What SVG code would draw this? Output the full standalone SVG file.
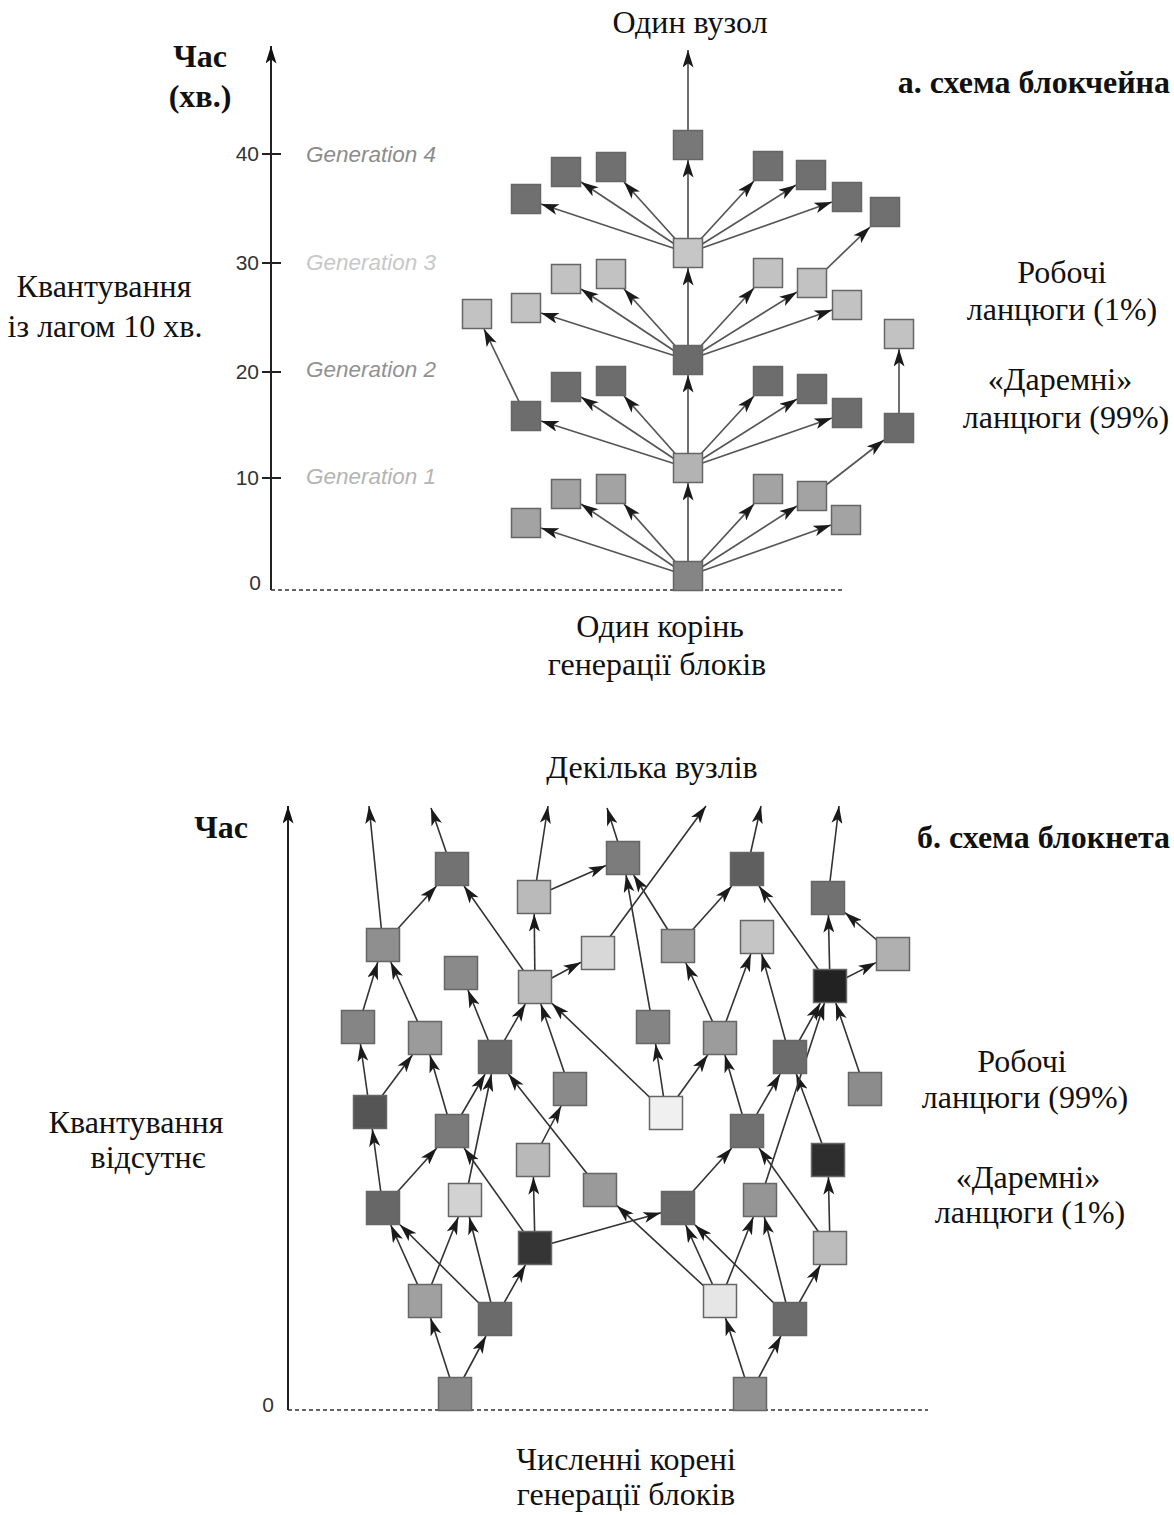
<svg xmlns="http://www.w3.org/2000/svg" width="1174" height="1515" viewBox="0 0 1174 1515">
<defs>
<marker id="ah" viewBox="0 0 16 10" refX="16" refY="5" markerWidth="18" markerHeight="11" markerUnits="userSpaceOnUse" orient="auto"><path d="M0,0 L16,5 L0,10 L4,5 z" fill="#1a1a1a"/></marker>
<marker id="ax" viewBox="0 0 16 10" refX="16" refY="5" markerWidth="18" markerHeight="11" markerUnits="userSpaceOnUse" orient="auto"><path d="M0,0 L16,5 L0,10 L4,5 z" fill="#111"/></marker>
</defs>
<style>
.lbl{font-family:"Liberation Serif","Times New Roman",serif;font-size:32px;fill:#111;text-anchor:middle}
.bold{font-weight:bold}
.gen{font-family:"Liberation Sans",Arial,sans-serif;font-style:italic;font-size:22.5px}
.num{font-family:"Liberation Sans",Arial,sans-serif;font-size:21px;fill:#333;text-anchor:end}
.axis{stroke:#222;stroke-width:2;fill:none}
.tick{stroke:#222;stroke-width:2}
.base{stroke:#333;stroke-width:1.6;stroke-dasharray:4 3;fill:none}
.ea line{stroke:#555;stroke-width:1.7;marker-end:url(#ah)}
.eb line{stroke:#333;stroke-width:1.6;marker-end:url(#ah)}
.na rect{stroke:#666;stroke-width:1.5}
.nb rect{stroke:#666;stroke-width:1.5}
</style>
<rect width="1174" height="1515" fill="#fff"/>

<!-- ===== Part a ===== -->
<g id="a-axis">
<line class="axis" x1="271" y1="590" x2="271" y2="46" marker-end="url(#ax)"/>
<line class="tick" x1="262" y1="154" x2="281" y2="154"/>
<line class="tick" x1="262" y1="263" x2="281" y2="263"/>
<line class="tick" x1="262" y1="372" x2="281" y2="372"/>
<line class="tick" x1="262" y1="478" x2="281" y2="478"/>
<text class="num" x="259" y="161">40</text>
<text class="num" x="259" y="270">30</text>
<text class="num" x="259" y="379">20</text>
<text class="num" x="259" y="485">10</text>
<text class="num" x="261" y="590">0</text>
<line class="base" x1="271" y1="590" x2="845" y2="590"/>
</g>
<g id="a-gens">
<text class="gen" x="306" y="162" fill="#8c8c8c">Generation 4</text>
<text class="gen" x="306" y="270" fill="#c8c8c8">Generation 3</text>
<text class="gen" x="306" y="377" fill="#929292">Generation 2</text>
<text class="gen" x="306" y="484" fill="#b4b4b4">Generation 1</text>
</g>
<g id="a-connectors" class="ea">
<line x1="688" y1="576" x2="541" y2="528"/>
<line x1="688" y1="576" x2="581" y2="504"/>
<line x1="688" y1="576" x2="624" y2="504"/>
<line x1="688" y1="576" x2="688" y2="483"/>
<line x1="688" y1="576" x2="754" y2="504"/>
<line x1="688" y1="576" x2="797" y2="506"/>
<line x1="688" y1="576" x2="831" y2="525"/>
<line x1="688" y1="468" x2="541" y2="421"/>
<line x1="688" y1="468" x2="581" y2="397"/>
<line x1="688" y1="468" x2="624" y2="396"/>
<line x1="688" y1="468" x2="688" y2="375"/>
<line x1="688" y1="468" x2="754" y2="396"/>
<line x1="688" y1="468" x2="797" y2="399"/>
<line x1="688" y1="468" x2="832" y2="418"/>
<line x1="812" y1="496" x2="884" y2="440"/>
<line x1="688" y1="360" x2="541" y2="313"/>
<line x1="688" y1="360" x2="581" y2="289"/>
<line x1="688" y1="360" x2="624" y2="289"/>
<line x1="688" y1="360" x2="688" y2="268"/>
<line x1="688" y1="360" x2="754" y2="288"/>
<line x1="688" y1="360" x2="797" y2="292"/>
<line x1="688" y1="360" x2="832" y2="310"/>
<line x1="526" y1="416" x2="484" y2="329"/>
<line x1="899" y1="428" x2="899" y2="349"/>
<line x1="688" y1="253" x2="541" y2="204"/>
<line x1="688" y1="253" x2="581" y2="182"/>
<line x1="688" y1="253" x2="624" y2="182"/>
<line x1="688" y1="253" x2="688" y2="160"/>
<line x1="688" y1="253" x2="754" y2="181"/>
<line x1="688" y1="253" x2="796" y2="185"/>
<line x1="688" y1="253" x2="832" y2="202"/>
<line x1="812" y1="283" x2="870" y2="227"/>
<line x1="688" y1="145" x2="688" y2="50"/>
</g>
<g class="na">
<g id="a-root"><rect x="673.5" y="561.5" width="29" height="29" fill="#858585"/></g>
<g id="a1L1"><rect x="511.5" y="508.5" width="29" height="29" fill="#a3a3a3"/></g>
<g id="a1L2"><rect x="551.5" y="479.5" width="29" height="29" fill="#a3a3a3"/></g>
<g id="a1L3"><rect x="596.5" y="474.5" width="29" height="29" fill="#a3a3a3"/></g>
<g id="a1c"><rect x="673.5" y="453.5" width="29" height="29" fill="#b3b3b3"/></g>
<g id="a1R1"><rect x="753.5" y="474.5" width="29" height="29" fill="#a3a3a3"/></g>
<g id="a1R2"><rect x="797.5" y="481.5" width="29" height="29" fill="#a3a3a3"/></g>
<g id="a1R3"><rect x="831.5" y="505.5" width="29" height="29" fill="#a3a3a3"/></g>
<g id="a2L1"><rect x="511.5" y="401.5" width="29" height="29" fill="#6d6d6d"/></g>
<g id="a2L2"><rect x="551.5" y="372.5" width="29" height="29" fill="#6d6d6d"/></g>
<g id="a2L3"><rect x="596.5" y="366.5" width="29" height="29" fill="#6d6d6d"/></g>
<g id="a2c"><rect x="673.5" y="345.5" width="29" height="29" fill="#6b6b6b"/></g>
<g id="a2R1"><rect x="753.5" y="366.5" width="29" height="29" fill="#6d6d6d"/></g>
<g id="a2R2"><rect x="797.5" y="374.5" width="29" height="29" fill="#6d6d6d"/></g>
<g id="a2R3"><rect x="832.5" y="398.5" width="29" height="29" fill="#6d6d6d"/></g>
<g id="a2X"><rect x="884.5" y="413.5" width="29" height="29" fill="#6b6b6b"/></g>
<g id="a3L0"><rect x="462.5" y="299.5" width="29" height="29" fill="#c2c2c2"/></g>
<g id="a3L1"><rect x="511.5" y="293.5" width="29" height="29" fill="#c2c2c2"/></g>
<g id="a3L2"><rect x="551.5" y="264.5" width="29" height="29" fill="#c2c2c2"/></g>
<g id="a3L3"><rect x="596.5" y="259.5" width="29" height="29" fill="#c2c2c2"/></g>
<g id="a3c"><rect x="673.5" y="238.5" width="29" height="29" fill="#c6c6c6"/></g>
<g id="a3R1"><rect x="753.5" y="258.5" width="29" height="29" fill="#c2c2c2"/></g>
<g id="a3R2"><rect x="797.5" y="268.5" width="29" height="29" fill="#c2c2c2"/></g>
<g id="a3R3"><rect x="832.5" y="290.5" width="29" height="29" fill="#c2c2c2"/></g>
<g id="a3X"><rect x="884.5" y="319.5" width="29" height="29" fill="#c2c2c2"/></g>
<g id="a4L1"><rect x="511.5" y="184.5" width="29" height="29" fill="#707070"/></g>
<g id="a4L2"><rect x="551.5" y="157.5" width="29" height="29" fill="#707070"/></g>
<g id="a4L3"><rect x="596.5" y="152.5" width="29" height="29" fill="#707070"/></g>
<g id="a4c"><rect x="673.5" y="130.5" width="29" height="29" fill="#787878"/></g>
<g id="a4R1"><rect x="753.5" y="151.5" width="29" height="29" fill="#707070"/></g>
<g id="a4R2"><rect x="796.5" y="160.5" width="29" height="29" fill="#707070"/></g>
<g id="a4R3"><rect x="832.5" y="182.5" width="29" height="29" fill="#707070"/></g>
<g id="a4X"><rect x="870.5" y="197.5" width="29" height="29" fill="#707070"/></g>
</g>
<g id="a-labels">
<text class="lbl" x="690" y="33">Один вузол</text>
<text class="lbl bold" x="200" y="67">Час</text>
<text class="lbl bold" x="200" y="107">(хв.)</text>
<text class="lbl bold" x="1170" y="93" style="text-anchor:end">а. схема блокчейна</text>
<text class="lbl" x="104" y="297">Квантування</text>
<text class="lbl" x="105" y="337">із лагом 10 хв.</text>
<text class="lbl" x="1062" y="283">Робочі</text>
<text class="lbl" x="1062" y="320">ланцюги (1%)</text>
<text class="lbl" x="1060" y="390">«Даремні»</text>
<text class="lbl" x="1066" y="428">ланцюги (99%)</text>
<text class="lbl" x="660" y="637">Один корінь</text>
<text class="lbl" x="657" y="675">генерації блоків</text>
</g>

<!-- ===== Part b ===== -->
<g id="b-axis">
<line class="axis" x1="288" y1="1410" x2="288" y2="806" marker-end="url(#ax)"/>
<text class="num" x="274" y="1412">0</text>
<line class="base" x1="288" y1="1410" x2="928" y2="1410"/>
</g>
<g id="b-connectors" class="eb">
<line x1="455" y1="1394" x2="430.5" y2="1318"/>
<line x1="455" y1="1394" x2="486" y2="1336"/>
<line x1="425" y1="1301" x2="390.7" y2="1225"/>
<line x1="425" y1="1301" x2="458.3" y2="1217"/>
<line x1="495" y1="1319" x2="400" y2="1224.8"/>
<line x1="495" y1="1319" x2="469.3" y2="1217"/>
<line x1="495" y1="1319" x2="525.4" y2="1265"/>
<line x1="383" y1="1208" x2="372.3" y2="1129"/>
<line x1="383" y1="1208" x2="436.8" y2="1148"/>
<line x1="465" y1="1200" x2="491.4" y2="1074"/>
<line x1="535" y1="1248" x2="464.1" y2="1148"/>
<line x1="535" y1="1248" x2="533.4" y2="1177"/>
<line x1="535" y1="1248" x2="661" y2="1212.8"/>
<line x1="533" y1="1160" x2="561.1" y2="1106"/>
<line x1="600" y1="1190" x2="508.4" y2="1074"/>
<line x1="720" y1="1301" x2="617" y2="1205.7"/>
<line x1="370" y1="1112" x2="360.4" y2="1044"/>
<line x1="370" y1="1112" x2="412.4" y2="1055"/>
<line x1="452" y1="1131" x2="429.9" y2="1055"/>
<line x1="452" y1="1131" x2="485.1" y2="1074"/>
<line x1="358" y1="1027" x2="377.8" y2="962"/>
<line x1="425" y1="1038" x2="390.7" y2="962"/>
<line x1="495" y1="1057" x2="467.9" y2="990"/>
<line x1="495" y1="1057" x2="525.3" y2="1004"/>
<line x1="570" y1="1089" x2="540.8" y2="1004"/>
<line x1="666" y1="1113" x2="552" y2="1003.4"/>
<line x1="535" y1="987" x2="534.2" y2="914"/>
<line x1="535" y1="987" x2="464" y2="886"/>
<line x1="535" y1="987" x2="581" y2="962.2"/>
<line x1="383" y1="945" x2="436.5" y2="886"/>
<line x1="383" y1="945" x2="369" y2="806"/>
<line x1="452" y1="869" x2="431" y2="808"/>
<line x1="534" y1="897" x2="548" y2="806"/>
<line x1="534" y1="897" x2="606" y2="865.4"/>
<line x1="598" y1="953" x2="706" y2="806"/>
<line x1="653" y1="1027" x2="626" y2="875"/>
<line x1="678" y1="946" x2="633.6" y2="875"/>
<line x1="678" y1="946" x2="731.8" y2="886"/>
<line x1="623" y1="858" x2="607" y2="808"/>
<line x1="747" y1="869" x2="761" y2="806"/>
<line x1="828" y1="898" x2="839" y2="806"/>
<line x1="830" y1="986" x2="828.4" y2="915"/>
<line x1="830" y1="986" x2="759" y2="886"/>
<line x1="830" y1="986" x2="876" y2="962.6"/>
<line x1="893" y1="954" x2="845" y2="912.6"/>
<line x1="666" y1="1113" x2="655.6" y2="1044"/>
<line x1="666" y1="1113" x2="707.7" y2="1055"/>
<line x1="747" y1="1131" x2="724.9" y2="1055"/>
<line x1="747" y1="1131" x2="780.1" y2="1074"/>
<line x1="828" y1="1160" x2="796.3" y2="1074"/>
<line x1="720" y1="1038" x2="685.8" y2="963"/>
<line x1="720" y1="1038" x2="750.8" y2="954"/>
<line x1="790" y1="1057" x2="761.7" y2="954"/>
<line x1="790" y1="1057" x2="820.4" y2="1003"/>
<line x1="760" y1="1200" x2="824.4" y2="1003"/>
<line x1="865" y1="1089" x2="835.8" y2="1003"/>
<line x1="678" y1="1208" x2="731.8" y2="1148"/>
<line x1="830" y1="1248" x2="759" y2="1148"/>
<line x1="830" y1="1248" x2="828.4" y2="1177"/>
<line x1="720" y1="1301" x2="685.7" y2="1225"/>
<line x1="720" y1="1301" x2="753.3" y2="1217"/>
<line x1="790" y1="1319" x2="695" y2="1224.9"/>
<line x1="790" y1="1319" x2="764.3" y2="1217"/>
<line x1="790" y1="1319" x2="820.4" y2="1265"/>
<line x1="750" y1="1394" x2="725.5" y2="1318"/>
<line x1="750" y1="1394" x2="780.9" y2="1336"/>
</g>
<g class="nb">
<g id="b-a"><rect x="435.5" y="852.5" width="33" height="33" fill="#727272"/></g>
<g id="b-b"><rect x="366.5" y="928.5" width="33" height="33" fill="#8f8f8f"/></g>
<g id="b-c"><rect x="517.5" y="880.5" width="33" height="33" fill="#bababa"/></g>
<g id="b-d"><rect x="606.5" y="841.5" width="33" height="33" fill="#7c7c7c"/></g>
<g id="b-e"><rect x="581.5" y="936.5" width="33" height="33" fill="#d8d8d8"/></g>
<g id="b-f"><rect x="444.5" y="956.5" width="33" height="33" fill="#8a8a8a"/></g>
<g id="b-g"><rect x="518.5" y="970.5" width="33" height="33" fill="#bdbdbd"/></g>
<g id="b-h"><rect x="341.5" y="1010.5" width="33" height="33" fill="#858585"/></g>
<g id="b-i"><rect x="408.5" y="1021.5" width="33" height="33" fill="#9b9b9b"/></g>
<g id="b-j"><rect x="478.5" y="1040.5" width="33" height="33" fill="#6b6b6b"/></g>
<g id="b-k"><rect x="553.5" y="1072.5" width="33" height="33" fill="#8a8a8a"/></g>
<g id="b-l"><rect x="353.5" y="1095.5" width="33" height="33" fill="#555555"/></g>
<g id="b-m"><rect x="435.5" y="1114.5" width="33" height="33" fill="#7a7a7a"/></g>
<g id="b-hh"><rect x="516.5" y="1143.5" width="33" height="33" fill="#b9b9b9"/></g>
<g id="b-gg"><rect x="583.5" y="1173.5" width="33" height="33" fill="#9a9a9a"/></g>
<g id="b-ii"><rect x="366.5" y="1191.5" width="33" height="33" fill="#676767"/></g>
<g id="b-jj"><rect x="448.5" y="1183.5" width="33" height="33" fill="#d2d2d2"/></g>
<g id="b-kk"><rect x="518.5" y="1231.5" width="33" height="33" fill="#353535"/></g>
<g id="b-ll"><rect x="408.5" y="1284.5" width="33" height="33" fill="#a0a0a0"/></g>
<g id="b-mm"><rect x="478.5" y="1302.5" width="33" height="33" fill="#6b6b6b"/></g>
<g id="b-nn"><rect x="438.5" y="1377.5" width="33" height="33" fill="#888888"/></g>
<g id="b-n"><rect x="730.5" y="852.5" width="33" height="33" fill="#5f5f5f"/></g>
<g id="b-o"><rect x="811.5" y="881.5" width="33" height="33" fill="#717171"/></g>
<g id="b-p"><rect x="661.5" y="929.5" width="33" height="33" fill="#a2a2a2"/></g>
<g id="b-q"><rect x="740.5" y="920.5" width="33" height="33" fill="#c5c5c5"/></g>
<g id="b-r"><rect x="876.5" y="937.5" width="33" height="33" fill="#b0b0b0"/></g>
<g id="b-s"><rect x="813.5" y="969.5" width="33" height="33" fill="#222222"/></g>
<g id="b-t"><rect x="636.5" y="1010.5" width="33" height="33" fill="#848484"/></g>
<g id="b-u"><rect x="703.5" y="1021.5" width="33" height="33" fill="#9c9c9c"/></g>
<g id="b-v"><rect x="773.5" y="1040.5" width="33" height="33" fill="#6c6c6c"/></g>
<g id="b-w"><rect x="848.5" y="1072.5" width="33" height="33" fill="#8c8c8c"/></g>
<g id="b-x"><rect x="649.5" y="1096.5" width="33" height="33" fill="#f0f0f0"/></g>
<g id="b-y"><rect x="730.5" y="1114.5" width="33" height="33" fill="#707070"/></g>
<g id="b-z"><rect x="811.5" y="1143.5" width="33" height="33" fill="#2e2e2e"/></g>
<g id="b-aa"><rect x="661.5" y="1191.5" width="33" height="33" fill="#6a6a6a"/></g>
<g id="b-bb"><rect x="743.5" y="1183.5" width="33" height="33" fill="#959595"/></g>
<g id="b-cc"><rect x="813.5" y="1231.5" width="33" height="33" fill="#bcbcbc"/></g>
<g id="b-dd"><rect x="703.5" y="1284.5" width="33" height="33" fill="#e6e6e6"/></g>
<g id="b-ee"><rect x="773.5" y="1302.5" width="33" height="33" fill="#6b6b6b"/></g>
<g id="b-ff"><rect x="733.5" y="1377.5" width="33" height="33" fill="#909090"/></g>
</g>
<g id="b-labels">
<text class="lbl" x="652" y="778">Декілька вузлів</text>
<text class="lbl bold" x="221" y="838">Час</text>
<text class="lbl bold" x="1170" y="848" style="text-anchor:end">б. схема блокнета</text>
<text class="lbl" x="136" y="1133">Квантування</text>
<text class="lbl" x="148" y="1168">відсутнє</text>
<text class="lbl" x="1022" y="1072">Робочі</text>
<text class="lbl" x="1025" y="1108">ланцюги (99%)</text>
<text class="lbl" x="1028" y="1188">«Даремні»</text>
<text class="lbl" x="1030" y="1223">ланцюги (1%)</text>
<text class="lbl" x="626" y="1470">Численні корені</text>
<text class="lbl" x="626" y="1505">генерації блоків</text>
</g>
</svg>
